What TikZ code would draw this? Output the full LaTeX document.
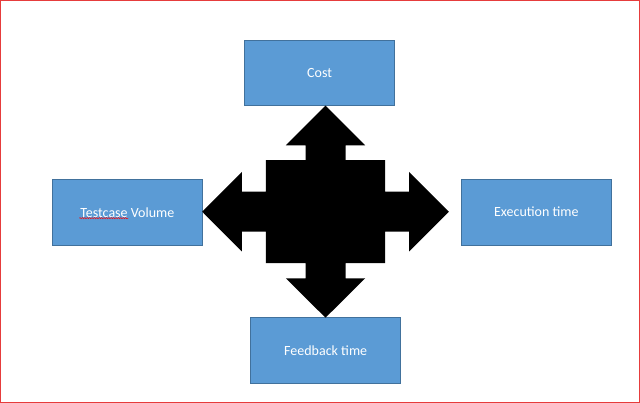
\documentclass[tikz,border=0pt]{standalone}
\usepackage{fontspec}
\setmainfont{Carlito}
\usetikzlibrary{decorations.pathmorphing}
\definecolor{boxblue}{RGB}{91,155,213}
\definecolor{boxline}{RGB}{65,113,156}
\definecolor{pageframe}{RGB}{230,60,60}
\tikzset{
  factor/.style={draw=boxline, fill=boxblue, line width=0.8pt, text=white,
    minimum width=150pt, minimum height=65.5pt, inner sep=0pt,
    font=\fontsize{14}{17}\selectfont},
  spellmark/.style={draw=red, line width=0.4pt, decorate,
    decoration={snake, amplitude=0.7pt, segment length=2.4pt}}
}
\begin{document}
\begin{tikzpicture}[x=1pt,y=-1pt]
\useasboundingbox (0,0) rectangle (640,403);
% Red frame round the page
\draw[pageframe, line width=1pt] (0.5,0.5) rectangle (639.5,402.5);
% The four boxes
\node[factor] (cost) at (319.6,73) {Cost};
\node[factor] (volume) at (127.3,212.2) {Testcase Volume};
\node[factor] (exec) at (536.3,212.2) {Execution time};
\node[factor] (feedback) at (325.7,350.5) {Feedback time};
% Spell check mark under Testcase
\draw[spellmark, shift={(volume.center)}] (-48,6) -- (1,6);
% The four way arrow in the middle
\begin{scope}[shift={(325.5,211.7)}]
\fill[black] (0,-106) -- (39.6,-66.4) -- (20,-66.4) -- (20,-51.5)
  -- (59.6,-51.5) -- (59.6,-20) -- (83.7,-20) -- (83.7,-39.7) -- (123.4,0)
  -- (83.7,39.7) -- (83.7,20) -- (59.6,20) -- (59.6,51.5) -- (20,51.5)
  -- (20,66.7) -- (39.6,66.7) -- (0,106) -- (-39.6,66.7) -- (-20,66.7)
  -- (-20,51.5) -- (-59.6,51.5) -- (-59.6,20) -- (-83.7,20) -- (-83.7,39.7)
  -- (-123.3,0) -- (-83.7,-39.7) -- (-83.7,-20) -- (-59.6,-20)
  -- (-59.6,-51.5) -- (-20,-51.5) -- (-20,-66.4) -- (-39.6,-66.4) -- cycle;
\end{scope}
\end{tikzpicture}
\end{document}
